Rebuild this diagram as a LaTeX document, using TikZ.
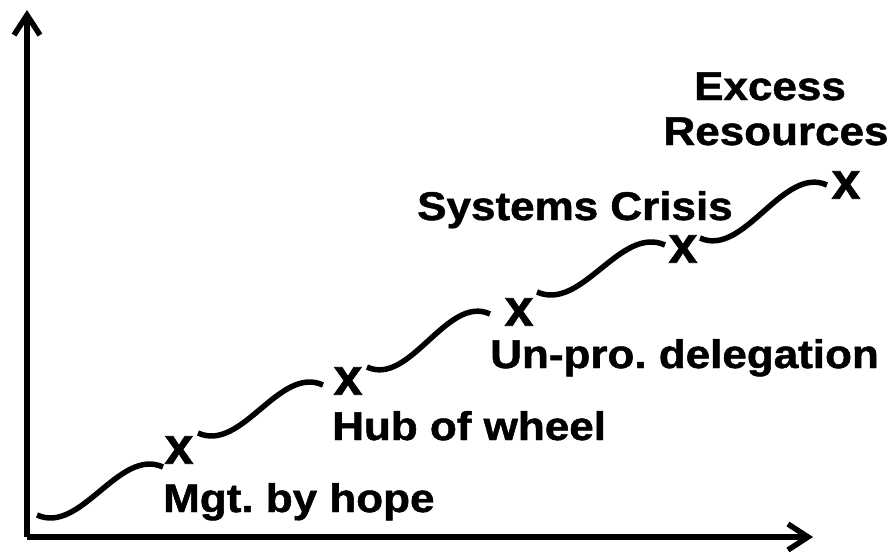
\documentclass[tikz,border=0pt]{standalone}
\usepackage{fontspec}
\setmainfont{Liberation Sans}
\newfontfamily\heavy{Liberation Sans}[UprightFont={* Bold}, RawFeature={embolden=1.2}]
\usetikzlibrary{arrows.meta}
\newcommand{\widetext}[1]{\scalebox{1.1}[1]{#1}}
\frenchspacing
\begin{document}
\begin{tikzpicture}[x=1pt,y=-1pt,
  lbl/.style={inner sep=0pt, font=\fontsize{40}{44}\selectfont\heavy},
  xmk/.style={inner sep=0pt, font=\fontsize{52}{52}\selectfont\heavy},
  axisline/.style={line width=5.5pt, -{Straight Barb[length=20pt,width=26pt]}},
  wave/.style={line width=5.5pt}]
\useasboundingbox (0,0) rectangle (896,551);
% axes
\coordinate (O) at (27,537);
\coordinate (ytip) at (27,10);
\coordinate (xtip) at (813,537);
\draw[axisline] (O) -- (ytip);
\draw[axisline] (O) -- (xtip);
% wave segments
\coordinate (s1) at (37,515);  \coordinate (e1) at (163,467);
\coordinate (s2) at (198,433); \coordinate (e2) at (323,385);
\coordinate (s3) at (367,367); \coordinate (e3) at (490,314);
\coordinate (s4) at (537,292); \coordinate (e4) at (665,245);
\coordinate (s5) at (700,238); \coordinate (e5) at (827,185);
\draw[wave] (s1) .. controls (81,535) and (119,447) .. (e1);
\draw[wave] (s2) .. controls (242,453) and (279,365) .. (e2);
\draw[wave] (s3) .. controls (410,387) and (447,294) .. (e3);
\draw[wave] (s4) .. controls (582,312) and (620,225) .. (e4);
\draw[wave] (s5) .. controls (744,258) and (783,165) .. (e5);
% x marks
\node[xmk] (x1) at (179,450) {x};
\node[xmk] (x2) at (348,381) {x};
\node[xmk] (x3) at (519,312) {x};
\node[xmk] (x4) at (683,249) {x};
\node[xmk] (x5) at (846,185) {x};
% labels
\node[lbl, anchor=base west] (l1) at (163,512) {\widetext{Mgt.\ by hope}};
\node[lbl, anchor=base west] (l2) at (332,440) {\widetext{Hub of wheel}};
\node[lbl, anchor=base west] (l3) at (490,368) {\widetext{Un-pro.\ delegation}};
\node[lbl, anchor=base west] (l4) at (417,220) {\widetext{Systems Crisis}};
\node[lbl, anchor=base] (l5a) at (770,100) {\widetext{Excess}};
\node[lbl, anchor=base] (l5b) at (776,145) {\widetext{Resources}};
\end{tikzpicture}
\end{document}
